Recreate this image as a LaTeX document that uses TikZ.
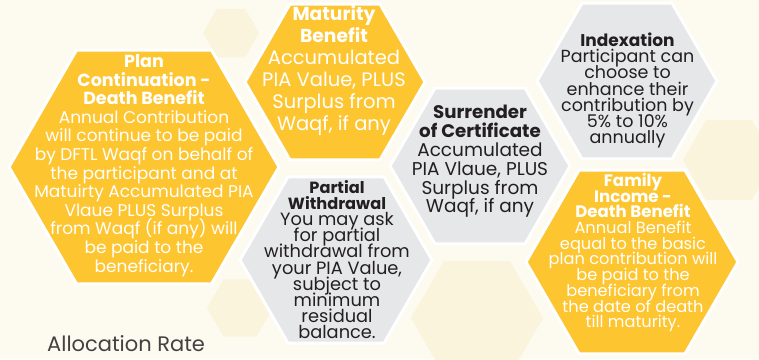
\documentclass[tikz,border=0pt]{standalone}
\usepackage{fontspec}
\setmainfont{Poppins}
\usetikzlibrary{shapes.geometric}

\definecolor{honey}{HTML}{FDC530}
\definecolor{ash}{HTML}{E6E7E9}
\definecolor{ink}{HTML}{231F20}
\definecolor{cream}{HTML}{FDFAF0}
\definecolor{pale}{HTML}{FBF4DC}

% tight lines, as in the leaflet
\lineskiplimit=-\maxdimen

\begin{document}
\begin{tikzpicture}[x=1pt,y=-1pt,
  hex/.style={regular polygon, regular polygon sides=6, inner sep=0pt,
    outer sep=0pt, draw=white, line width=3pt},
  goldhex/.style={hex, fill=honey},
  greyhex/.style={hex, fill=ash},
  ghosthex/.style={regular polygon, regular polygon sides=6, inner sep=0pt, fill=pale},
  lighttext/.style={align=center, text=white, inner sep=0pt},
  darktext/.style={align=center, text=ink, inner sep=0pt}]

% background
\fill[cream] (0,0) rectangle (759,359);
\useasboundingbox (0,0) rectangle (759,359);

% faint hexagons behind
\node[ghosthex, minimum size=56pt] (ghostA) at (231,33) {};
\node[ghosthex, minimum size=66pt] (ghostB) at (240,308) {};
\node[ghosthex, minimum size=132pt] (ghostC) at (477,318) {};
\node[ghosthex, minimum size=92pt] (ghostD) at (729,160) {};

% the six hexagons
\node[goldhex, minimum size=270pt] (plan) at (144,167) {};
\node[goldhex, minimum size=180pt] (maturity) at (335,82) {};
\node[greyhex, minimum size=180pt] (surrender) at (480,166) {};
\node[greyhex, minimum size=180pt] (index) at (627,81) {};
\node[greyhex, minimum size=192pt] (partial) at (336,260) {};
\node[goldhex, minimum size=212pt] (family) at (632,262) {};

% texts
\node[lighttext, font=\fontsize{17}{18.6}\selectfont] (plantext) at (144,165.5)
  {{\fontsize{17.5}{18.6}\selectfont\bfseries Plan}\\
   {\fontsize{17.5}{18.6}\selectfont\bfseries Continuation -}\\
   {\fontsize{17.5}{18.6}\selectfont\bfseries Death Benefit}\\
   Annual Contribution\\ will continue to be paid\\ by DFTL Waqf on behalf of\\
   the participant and at\\ Matuirty Accumulated PIA\\ Vlaue PLUS Surplus\\
   from Waqf (if any) will\\ be paid to the\\ beneficiary.};

\node[lighttext, font=\fontsize{19.5}{22}\selectfont] (maturitytext) at (334,71)
  {{\fontsize{18.7}{22}\selectfont\bfseries Maturity}\\
   {\fontsize{18.7}{22}\selectfont\bfseries Benefit}\\
   Accumulated\\ PIA Value, PLUS\\ Surplus from\\ Waqf, if any};

\node[darktext, font=\fontsize{18.5}{18.8}\selectfont] (surrendertext) at (480,161.5)
  {{\fontsize{18.2}{18.8}\selectfont\bfseries Surrender}\\
   {\fontsize{18.2}{18.8}\selectfont\bfseries of Certificate}\\
   Accumulated\\ PIA Vlaue, PLUS\\ Surplus from\\ Waqf, if any};

\node[darktext, font=\fontsize{17.5}{16.2}\selectfont] (indextext) at (627.5,90.5)
  {{\fontsize{17}{16.2}\selectfont\bfseries Indexation}\\
   Participant can\\ choose to\\ enhance their\\
   contribution by\\ 5\% to 10\%\\ annually};

\node[darktext, font=\fontsize{17.8}{16.2}\selectfont] (partialtext) at (337,259.5)
  {{\fontsize{16.2}{16.2}\selectfont\bfseries Partial}\\
   {\fontsize{16.2}{16.2}\selectfont\bfseries Withdrawal}\\
   You may ask\\ for partial\\
   withdrawal from\\ your PIA Value,\\ subject to\\ minimum\\ residual\\ balance.};

\node[lighttext, font=\fontsize{16.2}{15.7}\selectfont] (familytext) at (633,252.5)
  {{\fontsize{16.6}{15.7}\selectfont\bfseries Family}\\
   {\fontsize{16.6}{15.7}\selectfont\bfseries Income -}\\
   {\fontsize{16.6}{15.7}\selectfont\bfseries Death Benefit}\\
   Annual Benefit\\ equal to the basic\\ plan contribution will\\ be paid to the\\
   beneficiary from\\ the date of death\\ till maturity.};

% caption at the foot
\node[anchor=base west, text=ink!85, inner sep=0pt, font=\fontsize{21}{24}\selectfont]
  (allocation) at (47,351) {Allocation Rate};

\end{tikzpicture}
\end{document}
